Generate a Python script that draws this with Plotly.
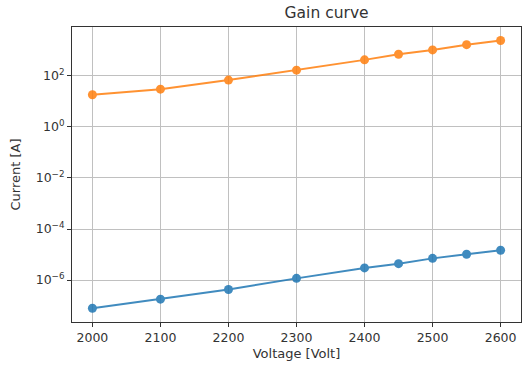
import plotly.graph_objects as go

voltage = [2000, 2100, 2200, 2300, 2400, 2450, 2500, 2550, 2600]
current_anode = [18, 30, 68, 166, 420, 700, 1030, 1650, 2400]
current_cathode = [7.9e-8, 1.8e-7, 4.3e-7, 1.17e-6, 3.0e-6, 4.4e-6, 7.1e-6, 1.03e-5, 1.47e-5]
ytick_vals = [1e-6, 1e-4, 1e-2, 1e0, 1e2]
ytick_text = ["10<sup>−6</sup>", "10<sup>−4</sup>", "10<sup>−2</sup>", "10<sup>0</sup>", "10<sup>2</sup>"]
xtick_vals = [2000, 2100, 2200, 2300, 2400, 2500, 2600]

fig = go.Figure()
fig.add_trace(go.Scatter(x=voltage, y=current_cathode, mode="lines+markers",
                         line=dict(color="#1f77b4", width=2),
                         marker=dict(color="#1f77b4", size=9), opacity=0.85))
fig.add_trace(go.Scatter(x=voltage, y=current_anode, mode="lines+markers",
                         line=dict(color="#ff7f0e", width=2),
                         marker=dict(color="#ff7f0e", size=9), opacity=0.85))

font = dict(family="DejaVu Sans", size=12.5, color="#333333")
fig.update_layout(
    width=522, height=365,
    margin=dict(l=72, r=1, t=27, b=43, autoexpand=False),
    paper_bgcolor="white", plot_bgcolor="white",
    showlegend=False,
    font=font,
    title=dict(text="Gain curve", x=296 / 522, xanchor="center", xref="paper",
               y=1 - 13 / 365, yanchor="middle", font=dict(size=15.5, color="#333333")),
)
fig.update_xaxes(range=[1970, 2630], tickvals=xtick_vals, showgrid=True, gridcolor="#c0c0c0",
                 gridwidth=1, showline=True, linecolor="#333", linewidth=1, mirror=True,
                 ticks="outside", ticklen=4, tickcolor="#333", zeroline=False,
                 title=dict(text="Voltage [Volt]", standoff=4, font=dict(size=13)))
fig.update_yaxes(type="log", range=[-7.64, 3.91], tickvals=ytick_vals, ticktext=ytick_text,
                 showgrid=True, gridcolor="#c0c0c0", gridwidth=1, showline=True, linecolor="#333",
                 linewidth=1, mirror=True, ticks="outside", ticklen=4, tickcolor="#333",
                 zeroline=False, title=dict(text="Current [A]", standoff=12, font=dict(size=13)))

fig.write_html("out.html", config={"displayModeBar": False},
               post_script="document.body.style.margin='0';")
